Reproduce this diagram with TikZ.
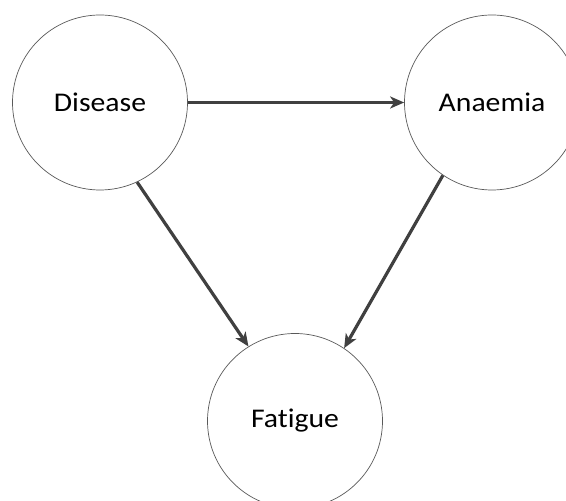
\documentclass[tikz,border=0pt]{standalone}
\usepackage{fontspec}
\setmainfont{Carlito}[FakeStretch=1.1,Ligatures=NoCommon]
\usetikzlibrary{arrows.meta}
\begin{document}
\begin{tikzpicture}[x=1pt,y=1pt,
  var/.style={circle,draw=black!65,line width=0.7pt,minimum size=175pt,inner sep=0pt,font=\fontsize{27}{32}\selectfont,fill=white},
  link/.style={draw=black!75,line width=3.2pt,-{Stealth[length=14pt,width=12pt,inset=4pt]}}]
\useasboundingbox (0,0) rectangle (566,501);
\clip (0,0) rectangle (566,501);
\fill[white] (0,0) rectangle (566,501);
\node[var] (dis) at (100,398.5) {Disease};
\node[var] (ana) at (492,398.5) {Anaemia};
\node[var] (fat) at (295,80) {Fatigue};
\draw[link] (dis.east) -- (ana.west);
\draw[link] (dis.-65) -- (fat.122.6);
\draw[link] (ana.-124) -- (fat.56.3);
\end{tikzpicture}
\end{document}
